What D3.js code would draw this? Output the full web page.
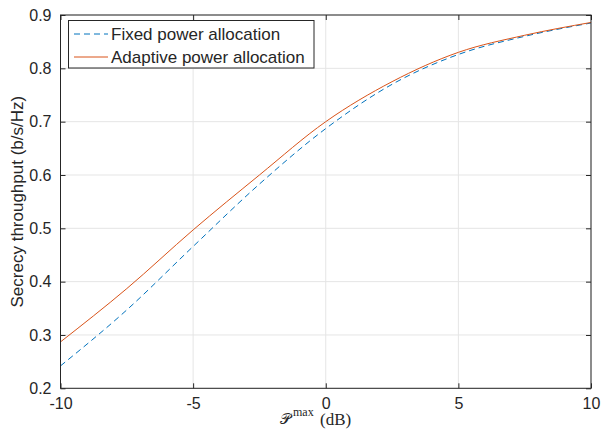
<!DOCTYPE html>
<html>
<head>
<meta charset="utf-8">
<script src="https://cdn.jsdelivr.net/npm/d3@7"></script>
<style>
  body { margin: 0; background: #fff; }
  text { font-family: "Liberation Sans", Arial, sans-serif; fill: #262626; }
</style>
</head>
<body>
<div id="chart"></div>
<script>
// values
var powerDb = [-10, -7.5, -5, -2.5, 0, 2.5, 5, 7.5, 10];
var fixedAlloc = [0.242, 0.347, 0.466, 0.583, 0.687, 0.770, 0.826, 0.860, 0.885];
var adaptiveAlloc = [0.287, 0.387, 0.497, 0.600, 0.700, 0.775, 0.830, 0.862, 0.886];
var xTicks = [-10, -5, 0, 5, 10];
var yTicks = [0.2, 0.3, 0.4, 0.5, 0.6, 0.7, 0.8, 0.9];
var seriesNames = ["Fixed power allocation", "Adaptive power allocation"];

var width = 603, height = 437;
var margin = { left: 60.5, right: 12, top: 15, bottom: 48.7 };

var svg = d3.select("#chart").append("svg")
    .attr("width", width)
    .attr("height", height);

var x = d3.scaleLinear().domain([-10, 10]).range([margin.left, width - margin.right]);
var y = d3.scaleLinear().domain([0.2, 0.9]).range([height - margin.bottom, margin.top]);

// grid
svg.append("g").selectAll("line").data(xTicks).enter().append("line")
    .attr("x1", function (d) { return x(d); })
    .attr("x2", function (d) { return x(d); })
    .attr("y1", y(0.2)).attr("y2", y(0.9))
    .attr("stroke", "#e5e5e5").attr("stroke-width", 1);
svg.append("g").selectAll("line").data(yTicks).enter().append("line")
    .attr("y1", function (d) { return y(d); })
    .attr("y2", function (d) { return y(d); })
    .attr("x1", x(-10)).attr("x2", x(10))
    .attr("stroke", "#e5e5e5").attr("stroke-width", 1);

// curves
var line = d3.line()
    .x(function (d) { return x(d[0]); })
    .y(function (d) { return y(d[1]); })
    .curve(d3.curveMonotoneX);

svg.append("path")
    .datum(d3.zip(powerDb, fixedAlloc))
    .attr("d", line)
    .attr("fill", "none")
    .attr("stroke", "#0072BD")
    .attr("stroke-width", 1)
    .attr("stroke-dasharray", "6,4");

svg.append("path")
    .datum(d3.zip(powerDb, adaptiveAlloc))
    .attr("d", line)
    .attr("fill", "none")
    .attr("stroke", "#D95319")
    .attr("stroke-width", 1);

// axes (box with inward ticks on all sides)
var axisColor = "#262626";
function styleAxis(g) {
    g.select(".domain").remove();
    g.selectAll("line").attr("stroke", axisColor);
    g.selectAll("text").style("font-size", "16px").attr("fill", axisColor);
}

svg.append("g")
    .attr("transform", "translate(0," + y(0.2) + ")")
    .call(d3.axisBottom(x).tickValues(xTicks).tickSizeInner(-5).tickSizeOuter(0).tickPadding(9)
        .tickFormat(function (d) { return String(d); }))
    .call(styleAxis);

svg.append("g")
    .attr("transform", "translate(0," + y(0.9) + ")")
    .call(d3.axisTop(x).tickValues(xTicks).tickSizeInner(-5).tickSizeOuter(0).tickFormat(""))
    .call(styleAxis);

svg.append("g")
    .attr("transform", "translate(" + x(-10) + ",0)")
    .call(d3.axisLeft(y).tickValues(yTicks).tickSizeInner(-5).tickSizeOuter(0).tickPadding(9)
        .tickFormat(d3.format(".1f")))
    .call(styleAxis);

svg.append("g")
    .attr("transform", "translate(" + x(10) + ",0)")
    .call(d3.axisRight(y).tickValues(yTicks).tickSizeInner(-5).tickSizeOuter(0).tickFormat(""))
    .call(styleAxis);

svg.append("rect")
    .attr("x", x(-10)).attr("y", y(0.9))
    .attr("width", x(10) - x(-10)).attr("height", y(0.2) - y(0.9))
    .attr("fill", "none").attr("stroke", axisColor).attr("stroke-width", 1);

// axis labels
svg.append("text")
    .attr("transform", "translate(23," + (y(0.55)) + ") rotate(-90)")
    .attr("text-anchor", "middle")
    .style("font-size", "17px")
    .text("Secrecy throughput (b/s/Hz)");

var serif = "'Liberation Serif', 'DejaVu Serif', serif";
svg.append("text")
    .attr("x", 291).attr("y", 424)
    .attr("text-anchor", "end")
    .style("font-family", "'DejaVu Sans', 'Noto Sans', serif")
    .style("font-size", "15px")
    .text("𝒫");
svg.append("text")
    .attr("x", 293).attr("y", 416)
    .style("font-family", serif)
    .style("font-size", "12px")
    .text("max");
svg.append("text")
    .attr("x", 320).attr("y", 425)
    .style("font-family", serif)
    .style("font-size", "17px")
    .text("(dB)");

// legend
var legend = svg.append("g");
legend.append("rect")
    .attr("x", 68.5).attr("y", 20.5)
    .attr("width", 245.5).attr("height", 47.5)
    .attr("fill", "#fff").attr("stroke", axisColor).attr("stroke-width", 1);

var legendRows = legend.selectAll("g.row").data(seriesNames).enter().append("g")
    .attr("class", "row")
    .attr("transform", function (d, i) { return "translate(0," + (34 + i * 23) + ")"; });

legendRows.append("line")
    .attr("x1", 74).attr("x2", 108)
    .attr("stroke", function (d, i) { return i === 0 ? "#0072BD" : "#D95319"; })
    .attr("stroke-dasharray", function (d, i) { return i === 0 ? "6,4" : null; })
    .attr("stroke-width", 1);

legendRows.append("text")
    .attr("x", 111)
    .attr("dy", "0.35em")
    .style("font-size", "17px")
    .text(function (d) { return d; });
</script>
</body>
</html>
